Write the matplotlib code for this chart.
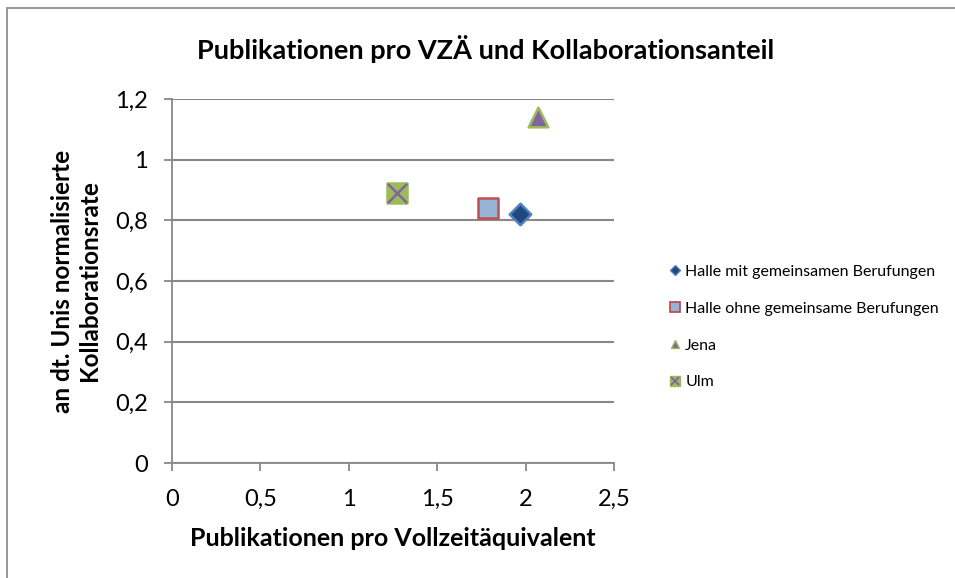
import matplotlib
matplotlib.use("Agg")
import matplotlib.pyplot as plt
from matplotlib.patches import Rectangle
from matplotlib.lines import Line2D

series = ["Halle mit gemeinsamen Berufungen", "Halle ohne gemeinsame Berufungen", "Jena", "Ulm"]
x_vals = [1.97, 1.79, 2.07, 1.27]
y_vals = [0.82, 0.84, 1.14, 0.89]
x_ticks = [0, 0.5, 1, 1.5, 2, 2.5]
x_tick_labels = ["0", "0,5", "1", "1,5", "2", "2,5"]
y_ticks = [0, 0.2, 0.4, 0.6, 0.8, 1.0, 1.2]
y_tick_labels = ["0", "0,2", "0,4", "0,6", "0,8", "1", "1,2"]

plt.rcParams['font.family'] = ['Lato', 'DejaVu Sans']

fig = plt.figure(figsize=(9.55, 5.78), dpi=100)
fig.patches.append(Rectangle((7/955, -0.05), 1.1, 1.05 - 8/578, transform=fig.transFigure,
                             fill=False, edgecolor='#868686', linewidth=1.2))
ax = fig.add_axes([172/955, 1 - 463/578, 442/955, 364/578])
ax.set_xlim(0, 2.5)
ax.set_ylim(0, 1.2)
ax.set_xticks(x_ticks)
ax.set_xticklabels(x_tick_labels, fontsize=17)
ax.set_yticks(y_ticks)
ax.set_yticklabels(y_tick_labels, fontsize=17)
ax.grid(axis='y', color='#888888', linewidth=1.5)
ax.set_axisbelow(True)
for s in ['top', 'right']:
    ax.spines[s].set_visible(False)
for s in ['left', 'bottom']:
    ax.spines[s].set_color('#888888')
    ax.spines[s].set_linewidth(1.3)
ax.tick_params(axis='both', direction='out', length=5.5, color='#888888', width=1.3)
ax.tick_params(axis='x', pad=13)
ax.tick_params(axis='y', pad=12)

styles = [
    dict(marker='D', s=120, facecolor='#1F497D', edgecolor='#4F81BD'),
    dict(marker='s', s=220, facecolor='#95B3D7', edgecolor='#C0504D'),
    dict(marker='^', s=200, facecolor='#8064A2', edgecolor='#9BBB59'),
    dict(marker='s', s=220, facecolor='#9BBB59', edgecolor='#9BBB59'),
]
for i in range(4):
    st = styles[i]
    ax.scatter([x_vals[i]], [y_vals[i]], marker=st['marker'], s=st['s'],
               facecolor=st['facecolor'], edgecolor=st['edgecolor'], linewidths=1.8,
               zorder=3, clip_on=False)
ax.scatter([x_vals[3]], [y_vals[3]], marker='x', s=190, color='#8064A2', linewidths=1.8,
           zorder=4, clip_on=False)

ax.set_xlabel("Publikationen pro Vollzeitäquivalent", fontsize=18, fontweight='bold', va='center')
ax.xaxis.set_label_coords(0.5, (463 - 538) / 364)
ax.set_ylabel("an dt. Unis normalisierte\nKollaborationsrate", fontsize=17.5, fontweight='bold',
              linespacing=1.2, va='center')
ax.yaxis.set_label_coords((76 - 172) / 442, 0.5)
fig.text(486 / 955, 1 - 49 / 578, "Publikationen pro VZÄ und Kollaborationsanteil",
         ha='center', va='center', fontsize=19.5, fontweight='bold')

handles = [
    Line2D([], [], linestyle='none', marker='D', markersize=5, markerfacecolor='#1F497D', markeredgecolor='#4F81BD'),
    Line2D([], [], linestyle='none', marker='s', markersize=7, markerfacecolor='#95B3D7', markeredgecolor='#C0504D', markeredgewidth=1.3),
    Line2D([], [], linestyle='none', marker='^', markersize=6, markerfacecolor='#8064A2', markeredgecolor='#9BBB59'),
    (Line2D([], [], linestyle='none', marker='s', markersize=7, markerfacecolor='#9BBB59', markeredgecolor='#9BBB59'),
     Line2D([], [], linestyle='none', marker='x', markersize=6, color='#8064A2', markeredgewidth=1.3)),
]
fig.legend(handles, series, loc='center left', bbox_to_anchor=(670 / 955, 1 - 327 / 578),
           frameon=False, fontsize=11.5, handlelength=0.6, handletextpad=0.35, labelspacing=1.42,
           borderaxespad=0, borderpad=0)

fig.savefig("out.png", dpi=100)
